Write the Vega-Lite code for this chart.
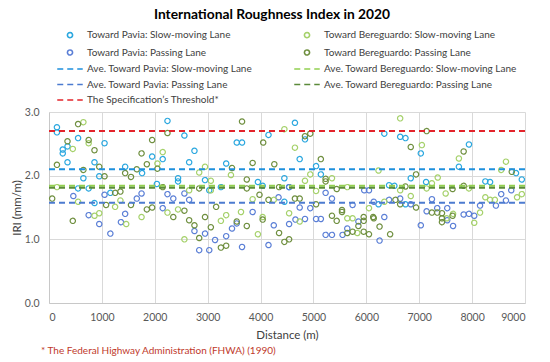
{
  "$schema": "https://vega.github.io/schema/vega-lite/v6.json",
  "background": "white",
  "padding": {"left": 11, "top": 8, "right": 10, "bottom": 0},
  "title": {"text": "International Roughness Index in 2020", "font": "Lato", "fontSize": 13.8, "fontWeight": "bold", "color": "#000000", "offset": 8, "anchor": "middle", "frame": "group", "dx": -15},
  "config": {
    "font": "Lato",
    "view": {"stroke": null},
    "axis": {"gridColor": "#D9D9D9", "domainColor": "#C8C8C8", "ticks": false, "tickSize": 0, "labelColor": "#595959", "labelFontSize": 10.5, "titleColor": "#404040", "titleFontSize": 11.5, "titleFontWeight": "normal", "labelPadding": 9},
    "legend": {
      "orient": "none", "legendX": 0, "legendY": -82,
      "columns": 2, "columnPadding": 33, "rowPadding": 5.5,
      "symbolType": "M-5,0H5", "symbolSize": 26, "symbolOffset": 16, "symbolStrokeWidth": 1.6,
      "labelOffset": 12, "labelFontSize": 10, "labelColor": "#404040", "labelLimit": 300, "padding": 0
    }
  },
  "vconcat": [
    {
      "width": 476,
      "height": 191,
      "title": {"text": "* The Federal Highway Administration (FHWA) (1990)", "orient": "bottom", "anchor": "start", "frame": "group", "color": "#C0392B", "fontSize": 10, "fontWeight": "normal", "font": "Lato", "dx": -8, "offset": 5},
      "layer": [
        {
          "data": {"values": [
            {"x":150,"y":2.76,"s":"ps"},{"x":150,"y":2.68,"s":"ps"},{"x":260,"y":2.41,"s":"ps"},{"x":260,"y":2.35,"s":"ps"},{"x":350,"y":2.46,"s":"ps"},{"x":350,"y":2.21,"s":"ps"},{"x":550,"y":2.59,"s":"ps"},{"x":550,"y":1.80,"s":"ps"},{"x":650,"y":1.96,"s":"ps"},{"x":750,"y":1.80,"s":"ps"},{"x":860,"y":2.21,"s":"ps"},{"x":860,"y":1.57,"s":"ps"},{"x":950,"y":1.99,"s":"ps"},{"x":1050,"y":2.51,"s":"ps"},{"x":1160,"y":1.73,"s":"ps"},{"x":1440,"y":2.14,"s":"ps"},{"x":1760,"y":2.04,"s":"ps"},{"x":1950,"y":2.30,"s":"ps"},{"x":2040,"y":1.87,"s":"ps"},{"x":2150,"y":2.26,"s":"ps"},{"x":2240,"y":2.86,"s":"ps"},{"x":2440,"y":1.96,"s":"ps"},{"x":2440,"y":1.91,"s":"ps"},{"x":2560,"y":2.63,"s":"ps"},{"x":2650,"y":2.21,"s":"ps"},{"x":2750,"y":2.39,"s":"ps"},{"x":2950,"y":1.93,"s":"ps"},{"x":3030,"y":1.77,"s":"ps"},{"x":3250,"y":1.82,"s":"ps"},{"x":3350,"y":2.19,"s":"ps"},{"x":3550,"y":2.52,"s":"ps"},{"x":3650,"y":2.52,"s":"ps"},{"x":3950,"y":1.90,"s":"ps"},{"x":4040,"y":1.84,"s":"ps"},{"x":4150,"y":2.64,"s":"ps"},{"x":4450,"y":1.96,"s":"ps"},{"x":4450,"y":1.59,"s":"ps"},{"x":4540,"y":1.82,"s":"ps"},{"x":4650,"y":2.83,"s":"ps"},{"x":4740,"y":2.26,"s":"ps"},{"x":4840,"y":2.57,"s":"ps"},{"x":5050,"y":2.15,"s":"ps"},{"x":5140,"y":2.02,"s":"ps"},{"x":6230,"y":1.55,"s":"ps"},{"x":6340,"y":2.66,"s":"ps"},{"x":6430,"y":1.85,"s":"ps"},{"x":6530,"y":1.84,"s":"ps"},{"x":6640,"y":2.61,"s":"ps"},{"x":6740,"y":2.59,"s":"ps"},{"x":6740,"y":1.55,"s":"ps"},{"x":6840,"y":1.96,"s":"ps"},{"x":7030,"y":2.35,"s":"ps"},{"x":7130,"y":1.90,"s":"ps"},{"x":7750,"y":2.14,"s":"ps"},{"x":7940,"y":2.49,"s":"ps"},{"x":8250,"y":1.91,"s":"ps"},{"x":8340,"y":1.90,"s":"ps"},{"x":8830,"y":2.04,"s":"ps"},{"x":8940,"y":1.94,"s":"ps"},
            {"x":460,"y":1.68,"s":"pp"},{"x":750,"y":1.38,"s":"pp"},{"x":950,"y":1.24,"s":"pp"},{"x":1050,"y":1.70,"s":"pp"},{"x":1160,"y":1.09,"s":"pp"},{"x":1360,"y":1.27,"s":"pp"},{"x":1440,"y":1.40,"s":"pp"},{"x":1660,"y":1.64,"s":"pp"},{"x":1750,"y":1.72,"s":"pp"},{"x":2150,"y":1.49,"s":"pp"},{"x":2240,"y":1.71,"s":"pp"},{"x":2350,"y":1.64,"s":"pp"},{"x":2560,"y":1.72,"s":"pp"},{"x":2650,"y":1.62,"s":"pp"},{"x":2750,"y":1.13,"s":"pp"},{"x":2840,"y":0.83,"s":"pp"},{"x":2950,"y":1.09,"s":"pp"},{"x":3030,"y":0.83,"s":"pp"},{"x":3140,"y":0.99,"s":"pp"},{"x":3350,"y":1.05,"s":"pp"},{"x":3460,"y":1.17,"s":"pp"},{"x":3550,"y":1.25,"s":"pp"},{"x":3650,"y":0.88,"s":"pp"},{"x":3850,"y":1.43,"s":"pp"},{"x":4150,"y":0.91,"s":"pp"},{"x":4250,"y":1.22,"s":"pp"},{"x":4340,"y":1.66,"s":"pp"},{"x":4540,"y":1.82,"s":"pp"},{"x":4540,"y":1.24,"s":"pp"},{"x":4660,"y":1.31,"s":"pp"},{"x":4740,"y":1.50,"s":"pp"},{"x":4840,"y":1.32,"s":"pp"},{"x":4940,"y":1.49,"s":"pp"},{"x":5050,"y":1.32,"s":"pp"},{"x":5140,"y":1.32,"s":"pp"},{"x":5230,"y":1.73,"s":"pp"},{"x":5230,"y":1.07,"s":"pp"},{"x":5350,"y":1.64,"s":"pp"},{"x":5350,"y":1.07,"s":"pp"},{"x":5550,"y":1.07,"s":"pp"},{"x":5640,"y":1.17,"s":"pp"},{"x":5740,"y":1.54,"s":"pp"},{"x":5850,"y":1.28,"s":"pp"},{"x":5960,"y":1.77,"s":"pp"},{"x":6050,"y":1.77,"s":"pp"},{"x":6140,"y":1.59,"s":"pp"},{"x":6250,"y":0.98,"s":"pp"},{"x":6340,"y":1.35,"s":"pp"},{"x":6430,"y":1.62,"s":"pp"},{"x":6640,"y":1.64,"s":"pp"},{"x":6840,"y":1.55,"s":"pp"},{"x":7030,"y":1.22,"s":"pp"},{"x":7140,"y":1.44,"s":"pp"},{"x":7240,"y":1.63,"s":"pp"},{"x":7340,"y":1.49,"s":"pp"},{"x":7530,"y":1.49,"s":"pp"},{"x":7530,"y":1.30,"s":"pp"},{"x":7640,"y":1.21,"s":"pp"},{"x":7840,"y":1.39,"s":"pp"},{"x":7940,"y":1.40,"s":"pp"},{"x":8040,"y":1.37,"s":"pp"},{"x":8150,"y":1.53,"s":"pp"},{"x":8450,"y":1.53,"s":"pp"},{"x":8550,"y":1.71,"s":"pp"},{"x":8640,"y":1.61,"s":"pp"},{"x":8740,"y":1.77,"s":"pp"},
            {"x":150,"y":1.82,"s":"bs"},{"x":450,"y":2.42,"s":"bs"},{"x":550,"y":1.59,"s":"bs"},{"x":650,"y":2.84,"s":"bs"},{"x":750,"y":2.51,"s":"bs"},{"x":860,"y":1.37,"s":"bs"},{"x":950,"y":1.41,"s":"bs"},{"x":1250,"y":1.51,"s":"bs"},{"x":1350,"y":1.61,"s":"bs"},{"x":1460,"y":1.24,"s":"bs"},{"x":1750,"y":1.35,"s":"bs"},{"x":2050,"y":2.19,"s":"bs"},{"x":2150,"y":2.37,"s":"bs"},{"x":2240,"y":1.42,"s":"bs"},{"x":2440,"y":1.47,"s":"bs"},{"x":2560,"y":1.00,"s":"bs"},{"x":2650,"y":1.77,"s":"bs"},{"x":2840,"y":2.05,"s":"bs"},{"x":2950,"y":2.14,"s":"bs"},{"x":3060,"y":1.92,"s":"bs"},{"x":3060,"y":1.77,"s":"bs"},{"x":3250,"y":1.29,"s":"bs"},{"x":3350,"y":1.38,"s":"bs"},{"x":3440,"y":2.01,"s":"bs"},{"x":3630,"y":1.43,"s":"bs"},{"x":3850,"y":1.63,"s":"bs"},{"x":3950,"y":1.08,"s":"bs"},{"x":4040,"y":1.35,"s":"bs"},{"x":4250,"y":1.62,"s":"bs"},{"x":4450,"y":2.73,"s":"bs"},{"x":4540,"y":1.41,"s":"bs"},{"x":4650,"y":2.44,"s":"bs"},{"x":4740,"y":1.28,"s":"bs"},{"x":4840,"y":1.92,"s":"bs"},{"x":4940,"y":2.02,"s":"bs"},{"x":5050,"y":1.76,"s":"bs"},{"x":5350,"y":1.96,"s":"bs"},{"x":5640,"y":1.82,"s":"bs"},{"x":5640,"y":1.33,"s":"bs"},{"x":5740,"y":1.33,"s":"bs"},{"x":5830,"y":1.10,"s":"bs"},{"x":6050,"y":1.49,"s":"bs"},{"x":6230,"y":2.08,"s":"bs"},{"x":6340,"y":1.59,"s":"bs"},{"x":6640,"y":2.90,"s":"bs"},{"x":6640,"y":1.77,"s":"bs"},{"x":6840,"y":1.68,"s":"bs"},{"x":7050,"y":2.48,"s":"bs"},{"x":7140,"y":1.80,"s":"bs"},{"x":7240,"y":1.88,"s":"bs"},{"x":7350,"y":1.97,"s":"bs"},{"x":7500,"y":1.72,"s":"bs"},{"x":7520,"y":1.33,"s":"bs"},{"x":7640,"y":1.40,"s":"bs"},{"x":7750,"y":2.27,"s":"bs"},{"x":7940,"y":1.80,"s":"bs"},{"x":8040,"y":1.26,"s":"bs"},{"x":8150,"y":1.42,"s":"bs"},{"x":8250,"y":1.66,"s":"bs"},{"x":8340,"y":1.62,"s":"bs"},{"x":8430,"y":1.62,"s":"bs"},{"x":8550,"y":2.09,"s":"bs"},{"x":8640,"y":2.22,"s":"bs"},{"x":8850,"y":1.66,"s":"bs"},{"x":8940,"y":1.71,"s":"bs"},
            {"x":60,"y":1.64,"s":"bp"},{"x":150,"y":2.17,"s":"bp"},{"x":350,"y":2.54,"s":"bp"},{"x":450,"y":1.29,"s":"bp"},{"x":550,"y":2.81,"s":"bp"},{"x":650,"y":2.09,"s":"bp"},{"x":750,"y":2.56,"s":"bp"},{"x":860,"y":2.40,"s":"bp"},{"x":950,"y":2.14,"s":"bp"},{"x":1050,"y":1.99,"s":"bp"},{"x":1080,"y":1.54,"s":"bp"},{"x":1250,"y":1.73,"s":"bp"},{"x":1350,"y":1.75,"s":"bp"},{"x":1440,"y":2.04,"s":"bp"},{"x":1550,"y":1.98,"s":"bp"},{"x":1550,"y":1.54,"s":"bp"},{"x":1660,"y":2.10,"s":"bp"},{"x":1750,"y":2.35,"s":"bp"},{"x":1850,"y":2.18,"s":"bp"},{"x":1850,"y":1.47,"s":"bp"},{"x":1950,"y":2.56,"s":"bp"},{"x":1950,"y":1.50,"s":"bp"},{"x":2050,"y":2.11,"s":"bp"},{"x":2150,"y":1.82,"s":"bp"},{"x":2240,"y":2.67,"s":"bp"},{"x":2350,"y":1.35,"s":"bp"},{"x":2560,"y":1.45,"s":"bp"},{"x":2650,"y":1.30,"s":"bp"},{"x":2750,"y":1.22,"s":"bp"},{"x":2840,"y":1.80,"s":"bp"},{"x":2840,"y":1.02,"s":"bp"},{"x":2950,"y":1.35,"s":"bp"},{"x":3060,"y":1.19,"s":"bp"},{"x":3160,"y":1.51,"s":"bp"},{"x":3250,"y":0.87,"s":"bp"},{"x":3350,"y":0.90,"s":"bp"},{"x":3460,"y":2.12,"s":"bp"},{"x":3550,"y":1.28,"s":"bp"},{"x":3650,"y":2.85,"s":"bp"},{"x":3740,"y":1.94,"s":"bp"},{"x":3740,"y":1.80,"s":"bp"},{"x":3740,"y":1.21,"s":"bp"},{"x":3850,"y":2.20,"s":"bp"},{"x":3980,"y":1.70,"s":"bp"},{"x":4040,"y":1.31,"s":"bp"},{"x":4050,"y":2.52,"s":"bp"},{"x":4150,"y":1.62,"s":"bp"},{"x":4260,"y":2.18,"s":"bp"},{"x":4350,"y":1.82,"s":"bp"},{"x":4350,"y":1.10,"s":"bp"},{"x":4450,"y":0.96,"s":"bp"},{"x":4540,"y":1.00,"s":"bp"},{"x":4650,"y":1.64,"s":"bp"},{"x":4740,"y":1.64,"s":"bp"},{"x":4840,"y":2.62,"s":"bp"},{"x":4940,"y":2.66,"s":"bp"},{"x":5050,"y":1.55,"s":"bp"},{"x":5140,"y":2.26,"s":"bp"},{"x":5230,"y":1.95,"s":"bp"},{"x":5230,"y":1.91,"s":"bp"},{"x":5350,"y":1.37,"s":"bp"},{"x":5440,"y":1.79,"s":"bp"},{"x":5440,"y":1.29,"s":"bp"},{"x":5540,"y":1.46,"s":"bp"},{"x":5540,"y":1.43,"s":"bp"},{"x":5640,"y":1.10,"s":"bp"},{"x":5740,"y":1.12,"s":"bp"},{"x":5850,"y":1.21,"s":"bp"},{"x":5950,"y":1.35,"s":"bp"},{"x":5950,"y":1.29,"s":"bp"},{"x":5950,"y":1.12,"s":"bp"},{"x":6050,"y":1.08,"s":"bp"},{"x":6130,"y":1.35,"s":"bp"},{"x":6140,"y":1.33,"s":"bp"},{"x":6250,"y":1.20,"s":"bp"},{"x":6450,"y":1.08,"s":"bp"},{"x":6550,"y":1.62,"s":"bp"},{"x":6640,"y":1.55,"s":"bp"},{"x":6740,"y":1.83,"s":"bp"},{"x":6840,"y":2.45,"s":"bp"},{"x":6940,"y":2.02,"s":"bp"},{"x":6940,"y":1.50,"s":"bp"},{"x":7140,"y":2.70,"s":"bp"},{"x":7240,"y":1.42,"s":"bp"},{"x":7340,"y":1.42,"s":"bp"},{"x":7430,"y":1.41,"s":"bp"},{"x":7430,"y":1.33,"s":"bp"},{"x":7430,"y":1.27,"s":"bp"},{"x":7630,"y":1.79,"s":"bp"},{"x":7630,"y":1.37,"s":"bp"},{"x":7840,"y":2.38,"s":"bp"},{"x":7840,"y":1.84,"s":"bp"},{"x":8750,"y":2.06,"s":"bp"}
          ]},
          "mark": {"type": "point", "filled": false, "size": 28, "strokeWidth": 1.2, "opacity": 1},
          "encoding": {
            "x": {"field": "x", "type": "quantitative", "scale": {"domain": [0, 9000], "nice": false}, "axis": {"values": [0,1000,2000,3000,4000,5000,6000,7000,8000,9000], "format": "d", "title": "Distance (m)", "titlePadding": 7}},
            "y": {"field": "y", "type": "quantitative", "scale": {"domain": [0, 3]}, "axis": {"values": [0,0.5,1,1.5,2,2.5,3], "format": ".1f", "title": "IRI (mm/m)", "titlePadding": 2, "labelPadding": 10}},
            "color": {
              "field": "s", "type": "nominal",
              "scale": {
                "domain": ["ps","pp","aps","app","thr","bs","bp","abs","abp"],
                "range": ["#2AA7DF","#5B7FD6","#1E90DD","#4C7BD0","#E3242B","#A5D16A","#6F8F3F","#92D050","#5B8A3A"]
              },
              "legend": {
                "title": null,
                "labelExpr": "({'ps':'Toward Pavia: Slow-moving Lane','bs':'Toward Bereguardo: Slow-moving Lane','pp':'Toward Pavia: Passing Lane','bp':'Toward Bereguardo: Passing Lane','aps':'Ave. Toward Pavia: Slow-moving Lane','abs':'Ave. Toward Bereguardo: Slow-moving Lane','app':'Ave. Toward Pavia: Passing Lane','abp':'Ave. Toward Bereguardo: Passing Lane','thr':'The Specification\u2019s Threshold*'})[datum.value]"
              }
            },
            "shape": {
              "field": "s", "type": "nominal",
              "scale": {
                "domain": ["ps","pp","aps","app","thr","bs","bp","abs","abp"],
                "range": ["M-1,0A1,1,0,1,1,1,0A1,1,0,1,1,-1,0Z","M-1,0A1,1,0,1,1,1,0A1,1,0,1,1,-1,0Z","M-5,0H5","M-5,0H5","M-5,0H5","M-1,0A1,1,0,1,1,1,0A1,1,0,1,1,-1,0Z","M-1,0A1,1,0,1,1,1,0A1,1,0,1,1,-1,0Z","M-5,0H5","M-5,0H5"]
              },
              "legend": {
                "title": null,
                "labelExpr": "({'ps':'Toward Pavia: Slow-moving Lane','bs':'Toward Bereguardo: Slow-moving Lane','pp':'Toward Pavia: Passing Lane','bp':'Toward Bereguardo: Passing Lane','aps':'Ave. Toward Pavia: Slow-moving Lane','abs':'Ave. Toward Bereguardo: Slow-moving Lane','app':'Ave. Toward Pavia: Passing Lane','abp':'Ave. Toward Bereguardo: Passing Lane','thr':'The Specification\u2019s Threshold*'})[datum.value]"
              }
            },
            "strokeDash": {
              "field": "s", "type": "nominal",
              "scale": {
                "domain": ["ps","pp","aps","app","thr","bs","bp","abs","abp"],
                "range": [[1,0],[1,0],[6,4],[6,4],[6,4],[1,0],[1,0],[6,4],[6,4]]
              },
              "legend": {
                "title": null,
                "labelExpr": "({'ps':'Toward Pavia: Slow-moving Lane','bs':'Toward Bereguardo: Slow-moving Lane','pp':'Toward Pavia: Passing Lane','bp':'Toward Bereguardo: Passing Lane','aps':'Ave. Toward Pavia: Slow-moving Lane','abs':'Ave. Toward Bereguardo: Slow-moving Lane','app':'Ave. Toward Pavia: Passing Lane','abp':'Ave. Toward Bereguardo: Passing Lane','thr':'The Specification\u2019s Threshold*'})[datum.value]"
              }
            }
          }
        },
        {
          "data": {"values": [
            {"y": 2.10, "s": "aps"},
            {"y": 1.84, "s": "abs"},
            {"y": 1.575, "s": "app"},
            {"y": 1.81, "s": "abp"},
            {"y": 2.70, "s": "thr"}
          ]},
          "mark": {"type": "rule", "strokeWidth": 2},
          "encoding": {
            "y": {"field": "y", "type": "quantitative"},
            "color": {"field": "s", "type": "nominal"},
            "strokeDash": {"field": "s", "type": "nominal", "scale": {"domain": ["ps","pp","aps","app","thr","bs","bp","abs","abp"], "range": [[1,0],[1,0],[7,5],[7,5],[7,5],[1,0],[1,0],[7,5],[7,5]]}}
          }
        }
      ]
    }
  ]
}
